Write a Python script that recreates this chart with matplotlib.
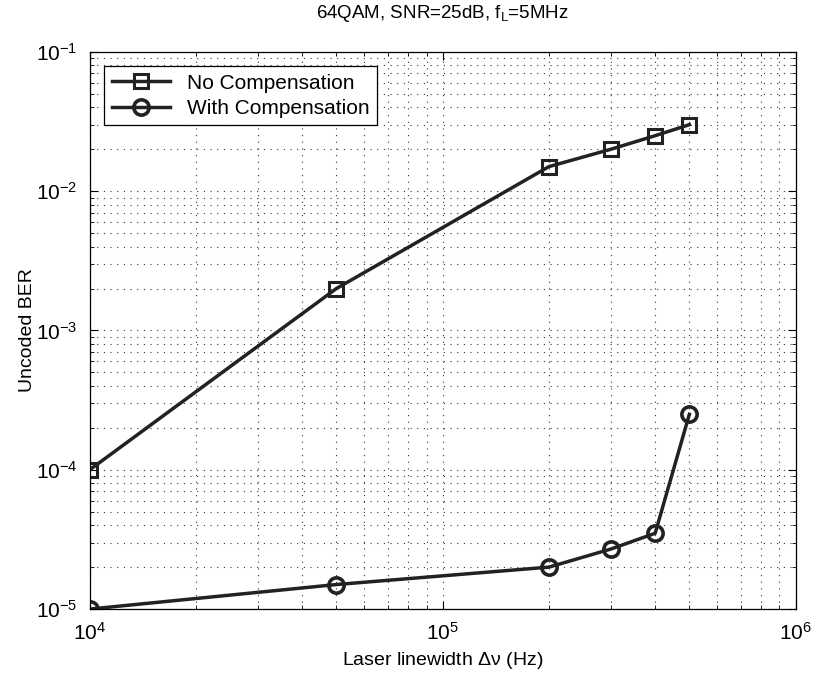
import numpy as np
import matplotlib
matplotlib.use("Agg")
import matplotlib.pyplot as plt
from matplotlib.ticker import LogLocator, NullFormatter

plt.rcParams['font.family'] = ['Liberation Sans', 'DejaVu Sans']
plt.rcParams['mathtext.fontset'] = 'custom'
plt.rcParams['mathtext.rm'] = 'Liberation Sans'
plt.rcParams['mathtext.it'] = 'Liberation Sans'

# data
linewidth_hz = [1e4, 5e4, 2e5, 3e5, 4e5, 5e5]
ber_no_comp = [1e-4, 2e-3, 1.5e-2, 2e-2, 2.5e-2, 3e-2]
ber_with_comp = [1e-5, 1.5e-5, 2e-5, 2.7e-5, 3.5e-5, 2.5e-4]

fig = plt.figure(figsize=(8.16, 6.73), dpi=100)
ax = fig.add_axes([0.110, 0.095, 0.865, 0.828])

ax.loglog(linewidth_hz, ber_no_comp, '-s', color='#222222', lw=2.5,
          markersize=10, markerfacecolor='none', markeredgewidth=2.2,
          label='No Compensation')
ax.loglog(linewidth_hz, ber_with_comp, '-o', color='#222222', lw=2.5,
          markersize=11, markerfacecolor='none', markeredgewidth=2.6,
          label='With Compensation')

ax.set_xlim(1e4, 1e6)
ax.set_ylim(1e-5, 1e-1)

ax.xaxis.set_major_locator(LogLocator(base=10))
ax.yaxis.set_major_locator(LogLocator(base=10))
ax.xaxis.set_minor_locator(LogLocator(base=10, subs=np.arange(2, 10)))
ax.yaxis.set_minor_locator(LogLocator(base=10, subs=np.arange(2, 10)))
ax.xaxis.set_minor_formatter(NullFormatter())
ax.yaxis.set_minor_formatter(NullFormatter())

ax.grid(True, which='both', color='#333333', linestyle=(0, (1, 5)), linewidth=0.8)
ax.tick_params(which='both', direction='in', top=True, right=True, labelsize=15)
ax.tick_params(which='major', length=6, pad=9)
ax.tick_params(which='minor', length=3)
for s in ax.spines.values():
    s.set_linewidth(0.9)

ax.set_xlabel(r'Laser linewidth $\Delta\nu$ (Hz)', fontsize=14, labelpad=5)
ax.set_ylabel('Uncoded BER', fontsize=14, labelpad=0)
ax.set_title(r'64QAM, SNR=25dB, f$_\mathrm{L}$=5MHz', fontsize=13.5, pad=24)

leg = ax.legend(loc='upper left', fontsize=15, fancybox=False, framealpha=1,
                edgecolor='black', handlelength=2.8, borderpad=0.35,
                labelspacing=0.3, borderaxespad=0.7)
leg.get_frame().set_linewidth(0.9)

fig.savefig('out.png', dpi=100)
